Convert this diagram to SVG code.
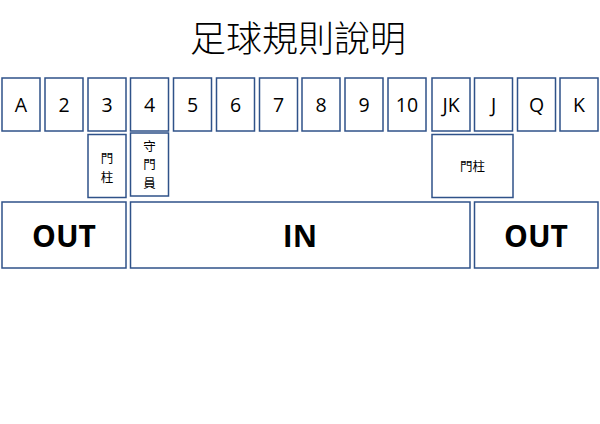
<svg xmlns="http://www.w3.org/2000/svg" width="600" height="424" viewBox="0 0 600 424">
<style>
.b{fill:#fff;stroke:#2F5289;stroke-width:1.5}
.n{font-family:"Open Sans","Liberation Sans",sans-serif;font-size:19.5px;text-anchor:middle;fill:#000}
.c{font-family:"Noto Sans CJK TC","Noto Sans CJK SC",sans-serif;font-size:12.5px;text-anchor:middle;fill:#000}
.o{font-family:"Open Sans","Liberation Sans",sans-serif;font-size:30px;font-weight:bold;text-anchor:middle;fill:#000}
.t{font-family:"Noto Sans CJK TC","Noto Sans CJK SC",sans-serif;font-size:36px;font-weight:300;text-anchor:middle;fill:#000}
</style>
<rect width="600" height="424" fill="#fff"/>
<text class="t" x="298" y="52">足球規則說明</text>
<g id="cards">
<g id="cA"><rect class="b" x="2" y="78" width="38" height="53"/><text class="n" x="21" y="112">A</text></g>
<g id="c2"><rect class="b" x="45" y="78" width="38" height="53"/><text class="n" x="64" y="112">2</text></g>
<g id="c3"><rect class="b" x="88" y="78" width="38" height="53"/><text class="n" x="107" y="112">3</text></g>
<g id="c4"><rect class="b" x="130.5" y="78" width="38" height="53"/><text class="n" x="149.5" y="112">4</text></g>
<g id="c5"><rect class="b" x="173.5" y="78" width="38" height="53"/><text class="n" x="192.5" y="112">5</text></g>
<g id="c6"><rect class="b" x="216.5" y="78" width="38" height="53"/><text class="n" x="235.5" y="112">6</text></g>
<g id="c7"><rect class="b" x="259.5" y="78" width="38" height="53"/><text class="n" x="278.5" y="112">7</text></g>
<g id="c8"><rect class="b" x="302" y="78" width="38" height="53"/><text class="n" x="321" y="112">8</text></g>
<g id="c9"><rect class="b" x="345" y="78" width="38" height="53"/><text class="n" x="364" y="112">9</text></g>
<g id="c10"><rect class="b" x="388" y="78" width="38" height="53"/><text class="n" x="407" y="112">10</text></g>
<g id="cJK"><rect class="b" x="432" y="78" width="38" height="53"/><text class="n" x="451" y="112">JK</text></g>
<g id="cJ"><rect class="b" x="474.5" y="78" width="38" height="53"/><text class="n" x="493.5" y="112">J</text></g>
<g id="cQ"><rect class="b" x="517.5" y="78" width="38" height="53"/><text class="n" x="536.5" y="112">Q</text></g>
<g id="cK"><rect class="b" x="560" y="78" width="38" height="53"/><text class="n" x="579" y="112">K</text></g>
</g>
<g id="post1"><rect class="b" x="88" y="134.5" width="38" height="63"/><text class="c" x="107" y="162.5">門</text><text class="c" x="107" y="181.5">柱</text></g>
<g id="keeper"><rect class="b" x="130.5" y="133" width="38" height="63"/><text class="c" x="149.5" y="150.5">守</text><text class="c" x="149.5" y="169">門</text><text class="c" x="149.5" y="187.5">員</text></g>
<g id="post2"><rect class="b" x="432" y="134.5" width="81" height="63"/><text class="c" x="472.5" y="171">門柱</text></g>
<g id="out1"><rect class="b" x="2" y="202" width="124" height="66"/><text class="o" x="64" y="247">OUT</text></g>
<g id="in"><rect class="b" x="130.5" y="202" width="339.5" height="66"/><text class="o" x="300" y="247">IN</text></g>
<g id="out2"><rect class="b" x="474.5" y="202" width="123.5" height="66"/><text class="o" x="536" y="247">OUT</text></g>
<g id="connectors"></g>
</svg>
